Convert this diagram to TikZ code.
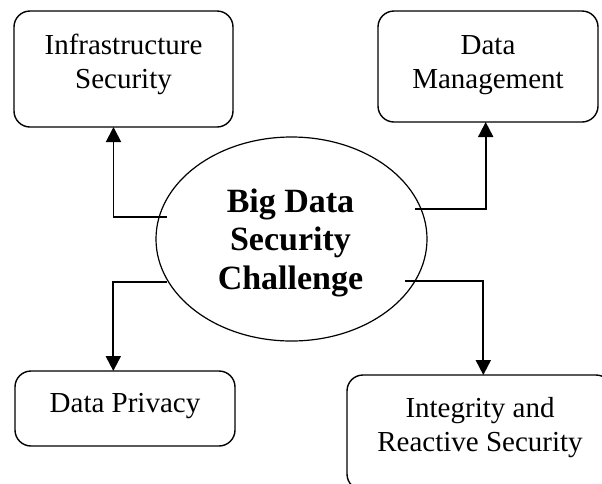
\documentclass[tikz,border=0pt]{standalone}
\usepackage{fontspec}
\setmainfont{Liberation Serif}
\usetikzlibrary{arrows.meta,shapes.geometric}
\begin{document}
\begin{tikzpicture}[x=1pt,y=-1pt,
  box/.style={draw,line width=1.4pt,rounded corners=16pt,inner sep=0pt,outer sep=0pt},
  lbl/.style={inner sep=0pt,align=center,font=\fontsize{29}{34.5}\selectfont},
  big/.style={inner sep=0pt,align=center,font=\fontsize{34}{38.5}\selectfont\bfseries},
  conn/.style={line width=1.9pt,-{Triangle[length=15pt,width=15pt]}}]
\useasboundingbox (0,0) rectangle (602,483);
\clip (0,0) rectangle (602,483);
% boxes
\node[box,minimum width=219pt,minimum height=116pt] (infra) at (123.5,69) {};
\node[box,minimum width=220pt,minimum height=111pt] (dm) at (488,66.5) {};
\node[box,minimum width=220pt,minimum height=75pt] (dp) at (125,408.5) {};
\node[box,minimum width=265pt,minimum height=115pt] (integ) at (479.5,432.5) {};
% ellipse
\node[draw,ellipse,line width=1.2pt,minimum width=271pt,minimum height=204pt,inner sep=0pt,outer sep=0pt] (ell) at (291.5,239) {};
% texts
\node[lbl] (tinfra) at (123.5,64.3) {Infrastructure\\Security};
\node[lbl] (tdm) at (488,65) {Data\\Management};
\node[lbl] (tdp) at (125,406) {Data Privacy};
\node[lbl] (tinteg) at (480,427.8) {Integrity and\\Reactive Security};
\node[big] (tell) at (290.5,242.5) {Big Data\\Security\\Challenge};
% connectors
\coordinate (s1) at (167,217);
\coordinate (s2) at (415,209);
\coordinate (s3) at (167,282);
\coordinate (s4) at (405,281);
\draw[conn] (s1) -| ([xshift=-10pt]infra.south);
\draw[conn] (s2) -| ([xshift=-2.3pt]dm.south);
\draw[conn] (s3) -| ([xshift=-11.7pt]dp.north);
\draw[conn] (s4) -| ([xshift=3.8pt]integ.north);
\end{tikzpicture}
\end{document}
